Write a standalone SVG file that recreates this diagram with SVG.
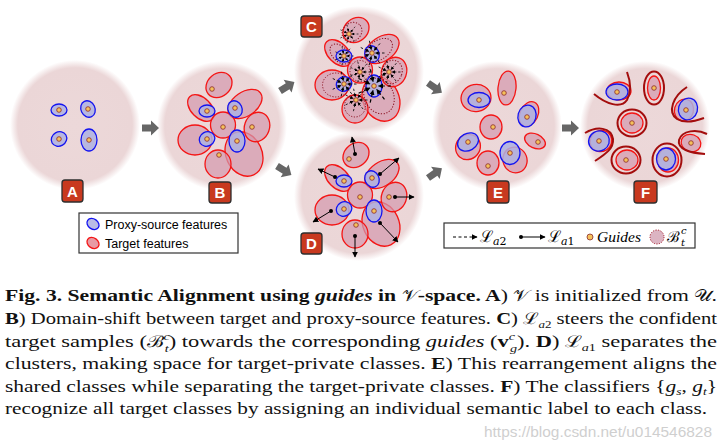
<svg xmlns="http://www.w3.org/2000/svg" width="725" height="445" viewBox="0 0 725 445">
<style>
.r{fill:#d49aae;fill-opacity:.72;stroke:#f41515;stroke-width:1.3}
.b{fill:#aeb1e2;fill-opacity:.85;stroke:#1414f0;stroke-width:1.3}
.dr{fill:none;stroke:#a30d0d;stroke-width:2}
.g{fill:#f4c15c;stroke:#8a2a2a;stroke-width:.8}
.dash{fill:none;stroke:#8a1020;stroke-width:1;stroke-dasharray:1.2 1.6}
.lab{fill:#c8391f;stroke:#2e2e2e;stroke-width:1.3}
.labt{font-family:"Liberation Sans",Arial,sans-serif;font-weight:bold;font-size:15px;fill:#fff;text-anchor:middle}
.leg{font-family:"Liberation Sans",Arial,sans-serif;font-size:12.5px;fill:#000}
.cap{font-family:"Liberation Serif",serif;font-size:17.5px;fill:#111}
.bf{font-weight:bold}
.it{font-style:italic}
.m{font-family:"DejaVu Serif",serif;font-size:16px}
.sub{font-size:11px}
.push{stroke:#000;stroke-width:1;fill:none;marker-start:url(#dot);marker-end:url(#ah)}
</style>
<defs>
<radialGradient id="bg" cx="0.5" cy="0.5" r="0.5">
<stop offset="0" stop-color="#ecd8d9"/>
<stop offset="0.88" stop-color="#ebd6d7"/>
<stop offset="1" stop-color="#ebd6d7" stop-opacity="0"/>
</radialGradient>
<marker id="ah" viewBox="0 0 10 10" refX="9" refY="5" markerWidth="6" markerHeight="6" markerUnits="userSpaceOnUse" orient="auto"><path d="M0,0 L10,5 L0,10 z" fill="#000"/></marker>
<marker id="ahs" viewBox="0 0 10 10" refX="9" refY="5" markerWidth="3" markerHeight="3" markerUnits="userSpaceOnUse" orient="auto"><path d="M0,0 L10,5 L0,10 z" fill="#000"/></marker>
<marker id="dot" viewBox="0 0 10 10" refX="5" refY="5" markerWidth="4" markerHeight="4" markerUnits="userSpaceOnUse"><circle cx="5" cy="5" r="5" fill="#000"/></marker>
<path id="garrow" d="M0,-3.5 H9 V-7.5 L17,0 L9,7.5 V3.5 H0 Z" fill="#666"/>
<g id="rays" stroke="#000" stroke-width=".7" stroke-dasharray="2 1.6" marker-end="url(#ahs)">
<line x1="10" y1="0" x2="2.6" y2="0"/>
<line x1="6.16" y1="7.88" x2="1.6" y2="2.05"/>
<line x1="-2.25" y1="9.74" x2="-0.58" y2="2.53"/>
<line x1="-9.06" y1="4.23" x2="-2.36" y2="1.1"/>
<line x1="-8.99" y1="-4.38" x2="-2.34" y2="-1.14"/>
<line x1="-2.08" y1="-9.78" x2="-0.54" y2="-2.54"/>
<line x1="6.43" y1="-7.66" x2="1.67" y2="-2"/>
</g>
</defs>
<rect width="725" height="445" fill="#fff"/>

<!-- Panel A -->
<g id="panel-A">
<circle cx="75" cy="125" r="65" fill="url(#bg)"/>
<ellipse class="b" cx="59" cy="110" rx="8" ry="6"/>
<ellipse class="b" cx="88" cy="109" rx="7" ry="8.5" transform="rotate(-25 88 109)"/>
<ellipse class="b" cx="59" cy="139" rx="8" ry="7" transform="rotate(-30 59 139)"/>
<ellipse class="b" cx="89" cy="140" rx="8" ry="11"/>
<circle class="g" cx="59" cy="110" r="2.3"/>
<circle class="g" cx="88" cy="109" r="2.3"/>
<circle class="g" cx="59" cy="139" r="2.3"/>
<circle class="g" cx="89" cy="140" r="2.3"/>
<rect class="lab" x="62" y="180" width="21" height="22" rx="3"/>
<text class="labt" x="72.5" y="196.5">A</text>
</g>

<!-- Panel B -->
<g id="panel-B">
<circle cx="222" cy="126" r="65" fill="url(#bg)"/>
<g id="clB">
<ellipse class="r" cx="244" cy="154" rx="18" ry="23" transform="rotate(-25 244 154)"/>
<ellipse class="r" cx="219" cy="85" rx="14" ry="11.5" transform="rotate(-40 219 85)"/>
<ellipse class="r" cx="201" cy="108" rx="16" ry="10" transform="rotate(45 201 108)"/>
<ellipse class="r" cx="245" cy="104" rx="19" ry="12" transform="rotate(-35 245 104)"/>
<ellipse class="r" cx="257" cy="127" rx="12.5" ry="15" transform="rotate(20 257 127)"/>
<ellipse class="r" cx="223" cy="125" rx="12.5" ry="13"/>
<ellipse class="r" cx="195" cy="140" rx="17" ry="15"/>
<ellipse class="r" cx="218" cy="164" rx="13" ry="14"/>
<ellipse class="b" cx="207" cy="111" rx="8" ry="6"/>
<ellipse class="b" cx="235" cy="109" rx="7" ry="8.5" transform="rotate(-25 235 109)"/>
<ellipse class="b" cx="207" cy="139" rx="8" ry="7" transform="rotate(-30 207 139)"/>
<ellipse class="b" cx="237" cy="141" rx="8" ry="11"/>
</g>
<g id="guB">
<circle class="g" cx="212" cy="89" r="2.3"/>
<circle class="g" cx="207" cy="111" r="2.3"/>
<circle class="g" cx="235" cy="108" r="2.3"/>
<circle class="g" cx="223" cy="127" r="2.3"/>
<circle class="g" cx="252" cy="127" r="2.3"/>
<circle class="g" cx="207" cy="139" r="2.3"/>
<circle class="g" cx="237" cy="141" r="2.3"/>
<circle class="g" cx="219" cy="155" r="2.3"/>
</g>
<rect class="lab" x="209" y="182" width="22" height="21" rx="3"/>
<text class="labt" x="220" y="198">B</text>
</g>

<!-- Panel C -->
<g id="panel-C">
<circle cx="359" cy="71" r="65" fill="url(#bg)"/>
<use href="#clB" transform="translate(137,-55)"/>
<g transform="translate(137,-55)">
<ellipse class="dash" cx="215" cy="87" rx="10.5" ry="9" transform="rotate(-40 215 87)"/>
<ellipse class="dash" cx="203" cy="109" rx="12" ry="7.5" transform="rotate(45 203 109)"/>
<ellipse class="dash" cx="242" cy="105" rx="15" ry="9.5" transform="rotate(-35 242 105)"/>
<ellipse class="dash" cx="223" cy="126" rx="10" ry="10.5"/>
<ellipse class="dash" cx="255" cy="127" rx="10" ry="12" transform="rotate(20 255 127)"/>
<ellipse class="dash" cx="199" cy="140" rx="13.5" ry="12"/>
<ellipse class="dash" cx="218" cy="161" rx="10.5" ry="11"/>
<ellipse class="dash" cx="242" cy="151" rx="14.5" ry="18.5" transform="rotate(-25 242 151)"/>
<use href="#rays" transform="translate(212,89) scale(0.95)"/>
<use href="#rays" transform="translate(207,111) scale(0.95)"/>
<use href="#rays" transform="translate(235,108) scale(1.25)"/>
<use href="#rays" transform="translate(223,127) scale(1.05)"/>
<use href="#rays" transform="translate(252,127) scale(1.15)"/>
<use href="#rays" transform="translate(207,139) scale(1.25)"/>
<use href="#rays" transform="translate(219,155) scale(1.15)"/>
<use href="#rays" transform="translate(237,141) scale(1.7)"/>
</g>
<use href="#guB" transform="translate(137,-55)"/>
<rect class="lab" x="301" y="16" width="21" height="21" rx="3"/>
<text class="labt" x="311.5" y="32">C</text>
</g>

<!-- Panel D -->
<g id="panel-D">
<circle cx="359" cy="196" r="65" fill="url(#bg)"/>
<use href="#clB" transform="translate(137,70)"/>
<use href="#guB" transform="translate(137,70)"/>
<line class="push" x1="355" y1="154" x2="352" y2="137"/>
<line class="push" x1="335" y1="177" x2="318" y2="169"/>
<line class="push" x1="380" y1="174" x2="399" y2="158"/>
<line class="push" x1="395" y1="197" x2="414" y2="197"/>
<line class="push" x1="331" y1="211" x2="313" y2="222"/>
<line class="push" x1="355" y1="236" x2="355" y2="257"/>
<line class="push" x1="380" y1="223" x2="398" y2="242"/>
<rect class="lab" x="301" y="233" width="21" height="21" rx="3"/>
<text class="labt" x="311.5" y="249">D</text>
</g>

<!-- Panel E -->
<g id="panel-E">
<circle cx="497" cy="126" r="65" fill="url(#bg)"/>
<ellipse class="r" cx="476" cy="98" rx="15" ry="13.5" transform="rotate(-10 476 98)"/>
<ellipse class="b" cx="479" cy="100" rx="11" ry="7.5"/>
<ellipse class="r" cx="507" cy="88" rx="9" ry="17" transform="rotate(5 507 88)"/>
<ellipse class="r" cx="529" cy="114" rx="9" ry="13" transform="rotate(25 529 114)"/>
<ellipse class="b" cx="527" cy="116" rx="9" ry="11" transform="rotate(15 527 116)"/>
<ellipse class="r" cx="491" cy="127" rx="11" ry="12"/>
<ellipse class="r" cx="535" cy="141" rx="11" ry="7" transform="rotate(25 535 141)"/>
<ellipse class="r" cx="468" cy="147" rx="12" ry="13" transform="rotate(40 468 147)"/>
<ellipse class="b" cx="468" cy="142" rx="11" ry="8.5" transform="rotate(-30 468 142)"/>
<ellipse class="r" cx="488" cy="163" rx="11" ry="12"/>
<ellipse class="r" cx="515" cy="160" rx="12" ry="13" transform="rotate(-20 515 160)"/>
<ellipse class="b" cx="510" cy="153" rx="10" ry="11.5"/>
<circle class="g" cx="479" cy="100" r="2.3"/>
<circle class="g" cx="504" cy="93" r="2.3"/>
<circle class="g" cx="527" cy="117" r="2.3"/>
<circle class="g" cx="493" cy="127" r="2.3"/>
<circle class="g" cx="538" cy="142" r="2.3"/>
<circle class="g" cx="468" cy="142" r="2.3"/>
<circle class="g" cx="488" cy="166" r="2.3"/>
<circle class="g" cx="510" cy="153" r="2.3"/>
<rect class="lab" x="487" y="181" width="22" height="22" rx="3"/>
<text class="labt" x="498" y="197.5">E</text>
</g>

<!-- Panel F -->
<g id="panel-F">
<circle cx="645" cy="126" r="65" fill="url(#bg)"/>
<ellipse class="r" cx="619" cy="91" rx="12" ry="9"/>
<ellipse class="b" cx="617" cy="92" rx="11" ry="8"/>
<path class="dr" d="M594,94 C606,104 621,109 627,100 C632,91 630,80 627,72"/>
<ellipse class="dr" cx="654" cy="88" rx="10" ry="16.5"/>
<ellipse class="r" cx="654" cy="88" rx="6.5" ry="12"/>
<ellipse class="r" cx="684" cy="110" rx="9.5" ry="11" transform="rotate(15 684 110)"/>
<ellipse class="b" cx="688" cy="109" rx="9.5" ry="11" transform="rotate(15 688 109)"/>
<path class="dr" d="M687,87 C673,96 667,112 677,119 C685,124 696,121 704,118"/>
<ellipse class="dr" cx="632" cy="123" rx="14.5" ry="13.5"/>
<ellipse class="r" cx="632" cy="123" rx="11" ry="10"/>
<ellipse class="r" cx="601" cy="141" rx="11" ry="10.5" transform="rotate(-30 601 141)"/>
<ellipse class="b" cx="599" cy="141" rx="10.5" ry="10" transform="rotate(-30 599 141)"/>
<path class="dr" d="M585,133 C597,126 611,127 613,139 C614,149 604,155 595,161"/>
<ellipse class="dr" cx="626" cy="160" rx="14.5" ry="13.5"/>
<ellipse class="r" cx="627" cy="160" rx="11" ry="10"/>
<ellipse class="dr" cx="667" cy="160" rx="14.5" ry="16.5"/>
<ellipse class="r" cx="668" cy="160" rx="10.5" ry="12"/>
<ellipse class="b" cx="666" cy="159" rx="9.5" ry="11"/>
<ellipse class="r" cx="691" cy="143" rx="10" ry="8.5" transform="rotate(20 691 143)"/>
<path class="dr" d="M707,134 C697,129 682,130 679,140 C677,149 690,153 705,154"/>
<circle class="g" cx="617" cy="92" r="2.3"/>
<circle class="g" cx="654" cy="88" r="2.3"/>
<circle class="g" cx="686" cy="110" r="2.3"/>
<circle class="g" cx="632" cy="123" r="2.3"/>
<circle class="g" cx="599" cy="141" r="2.3"/>
<circle class="g" cx="626" cy="160" r="2.3"/>
<circle class="g" cx="666" cy="159" r="2.3"/>
<circle class="g" cx="691" cy="143" r="2.3"/>
<rect class="lab" x="634" y="181" width="23" height="22" rx="3"/>
<text class="labt" x="645.5" y="197.5">F</text>
</g>

<!-- Connectors -->
<g id="connectors">
<use href="#garrow" transform="translate(142,128)"/>
<use href="#garrow" transform="translate(280,91) rotate(-32)"/>
<use href="#garrow" transform="translate(277,166) rotate(32)"/>
<use href="#garrow" transform="translate(428,83) rotate(35)"/>
<use href="#garrow" transform="translate(428,178) rotate(-35)"/>
<use href="#garrow" transform="translate(562,128)"/>
</g>

<!-- Legend 1 -->
<g id="legend-features">
<rect x="79" y="213" width="159" height="40" fill="#fff" stroke="#333" stroke-width="1.2"/>
<ellipse class="b" cx="93" cy="224" rx="6.5" ry="5" transform="rotate(35 93 224)"/>
<text class="leg" x="105" y="228.5">Proxy-source features</text>
<ellipse class="r" cx="93" cy="243" rx="6.5" ry="5" transform="rotate(35 93 243)" style="fill:#e89aa4;fill-opacity:1"/>
<text class="leg" x="105" y="247.5">Target features</text>
</g>

<!-- Legend 2 -->
<g id="legend-losses">
<rect x="444" y="223" width="251" height="25" fill="#fff" stroke="#333" stroke-width="1.2"/>
<line x1="453" y1="237" x2="477" y2="237" stroke="#000" stroke-width="1" stroke-dasharray="3 2.5" marker-end="url(#ah)"/>
<text x="480" y="242" class="m">ℒ<tspan class="sub" dy="3"><tspan class="it">a</tspan>2</tspan></text>
<line class="push" x1="521" y1="237" x2="545" y2="237"/>
<text x="548" y="242" class="m">ℒ<tspan class="sub" dy="3"><tspan class="it">a</tspan>1</tspan></text>
<circle class="g" cx="590" cy="237" r="3"/>
<text x="597" y="242" style="font-family:'Liberation Serif',serif;font-style:italic;font-size:15.5px">Guides</text>
<circle cx="657" cy="237" r="7" fill="#dcb4c2" stroke="#a31a2a" stroke-width="1" stroke-dasharray="1.2 1.4"/>
<text x="667" y="242" class="m" style="font-size:15px">ℬ</text>
<text x="681" y="234" class="m sub it" style="font-size:10px">c</text>
<text x="681" y="246" class="m sub it" style="font-size:10px">t</text>
</g>

<!-- Caption -->
<g id="caption">
<text class="cap" x="5" y="301" textLength="712" lengthAdjust="spacingAndGlyphs"><tspan class="bf">Fig. 3.  Semantic Alignment using </tspan><tspan class="bf it">guides</tspan><tspan class="bf"> in </tspan><tspan class="m">𝒱</tspan><tspan class="bf">-space. A</tspan>) <tspan class="m">𝒱</tspan> is initialized from <tspan class="m">𝒰</tspan>.</text>
<text class="cap" x="5" y="324" textLength="712" lengthAdjust="spacingAndGlyphs"><tspan class="bf">B</tspan>) Domain-shift between target and proxy-source features. <tspan class="bf">C</tspan>) <tspan class="m">ℒ</tspan><tspan class="sub it" dy="4">a</tspan><tspan class="sub">2</tspan><tspan dy="-4"> steers the confident</tspan></text>
<text class="cap" x="5" y="347" textLength="712" lengthAdjust="spacingAndGlyphs">target samples (<tspan class="m">ℬ</tspan><tspan class="sub it" dy="-7">c</tspan><tspan class="sub it" dx="-4" dy="12">t</tspan><tspan dy="-5">) towards the corresponding </tspan><tspan class="it">guides</tspan> (<tspan class="bf">v</tspan><tspan class="sub it" dy="-7">c</tspan><tspan class="sub it" dx="-4" dy="12">g</tspan><tspan dy="-5">). </tspan><tspan class="bf">D</tspan>) <tspan class="m">ℒ</tspan><tspan class="sub it" dy="4">a</tspan><tspan class="sub">1</tspan><tspan dy="-4"> separates the</tspan></text>
<text class="cap" x="5" y="369" textLength="712" lengthAdjust="spacingAndGlyphs">clusters, making space for target-private classes. <tspan class="bf">E</tspan>) This rearrangement aligns the</text>
<text class="cap" x="5" y="392" textLength="712" lengthAdjust="spacingAndGlyphs">shared classes while separating the target-private classes. <tspan class="bf">F</tspan>) The classifiers {<tspan class="it">g</tspan><tspan class="sub it" dy="3">s</tspan><tspan dy="-3">, </tspan><tspan class="it">g</tspan><tspan class="sub it" dy="3">t</tspan><tspan dy="-3">}</tspan></text>
<text class="cap" x="5" y="414" textLength="702" lengthAdjust="spacingAndGlyphs">recognize all target classes by assigning an individual semantic label to each class.</text>
<text x="712" y="437" text-anchor="end" textLength="228" lengthAdjust="spacingAndGlyphs" style="font-family:'Liberation Sans',Arial,sans-serif;font-size:14px;fill:#cfcfcf">https://blog.csdn.net/u014546828</text>
</g>
</svg>
